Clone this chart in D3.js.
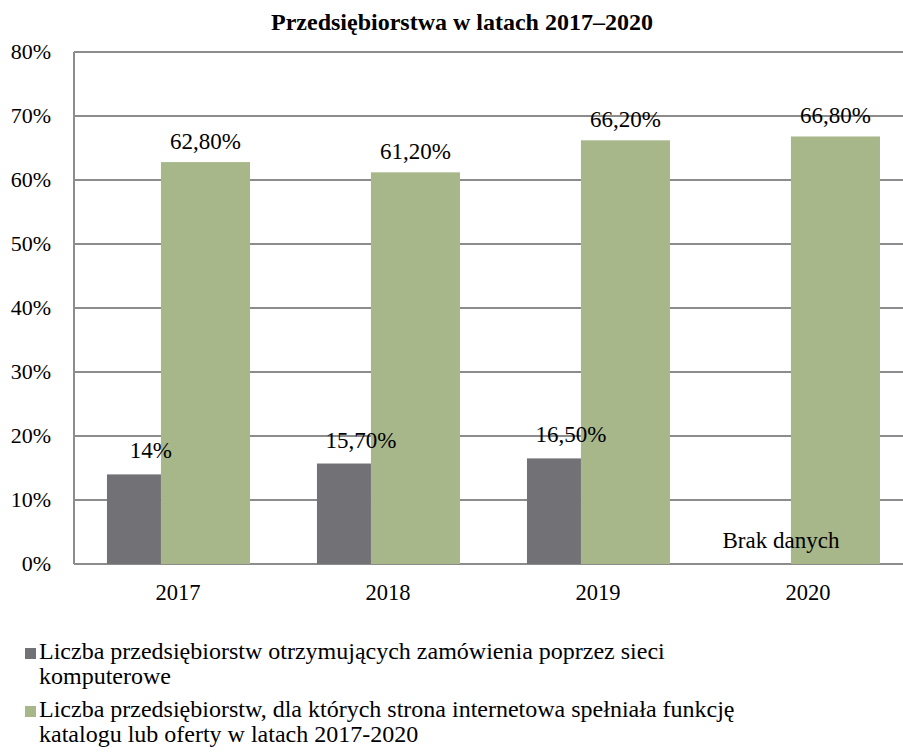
<!DOCTYPE html>
<html>
<head>
<meta charset="utf-8">
<script src="https://cdn.jsdelivr.net/npm/d3@7/dist/d3.min.js"></script>
<style>
  html, body { margin: 0; padding: 0; background: #fff; }
</style>
</head>
<body>
<svg id="chart" width="903" height="756"></svg>
<script>
// Years on the category axis
const years = ["2017", "2018", "2019", "2020"];
// Share of enterprises receiving orders via computer networks (no data for 2020)
const ordersShare = [0.14, 0.157, 0.165, null];
// Share of enterprises whose website offered a catalogue / price list
const catalogShare = [0.628, 0.612, 0.662, 0.668];
// Value labels as printed
const ordersLabels = ["14%", "15,70%", "16,50%", "Brak danych"];
const catalogLabels = ["62,80%", "61,20%", "66,20%", "66,80%"];
// Y axis ticks
const yTicks = [0, 0.1, 0.2, 0.3, 0.4, 0.5, 0.6, 0.7, 0.8];
const yTickLabels = ["0%", "10%", "20%", "30%", "40%", "50%", "60%", "70%", "80%"];
// Legend entries
const legendEntries = [
  ["Liczba przedsiębiorstw otrzymujących zamówienia poprzez sieci", "komputerowe"],
  ["Liczba przedsiębiorstw, dla których strona internetowa spełniała funkcję", "katalogu lub oferty w latach 2017-2020"]
];
const seriesColors = ["#727176", "#a7b78a"];
const title = "Przedsiębiorstwa w latach 2017–2020";

const FONT = "'Liberation Serif', 'Times New Roman', Times, 'DejaVu Serif', serif";

const svg = d3.select("#chart")
  .attr("font-family", FONT)
  .style("font-family", FONT);
const plot = { left: 74, right: 914, top: 52, bottom: 564 };

const x = d3.scaleBand().domain(years).range([plot.left, plot.right]).padding(0);
const y = d3.scaleLinear().domain([0, 0.8]).range([plot.bottom, plot.top]);

function txt(sel) {
  return sel.attr("font-family", FONT).style("font-family", FONT).attr("fill", "#000");
}

// Horizontal gridlines
svg.append("g")
  .selectAll("line")
  .data(yTicks)
  .join("line")
  .attr("x1", plot.left)
  .attr("x2", 903)
  .attr("y1", d => y(d))
  .attr("y2", d => y(d))
  .attr("stroke", "#8c8c8c")
  .attr("stroke-width", 2);

// Vertical axis line
svg.append("line")
  .attr("x1", plot.left).attr("x2", plot.left)
  .attr("y1", y(0.8)).attr("y2", y(0))
  .attr("stroke", "#8c8c8c").attr("stroke-width", 2);

// Bar geometry within each band
const bw = x.bandwidth();
const grayX = d => x(d) + bw * 0.157;
const grayW = bw * 0.257;
const greenX = d => x(d) + bw * 0.414;
const greenW = bw * 0.424;

// Green bars
svg.append("g")
  .selectAll("rect")
  .data(years.map((yr, i) => ({ yr, v: catalogShare[i] })))
  .join("rect")
  .attr("x", d => greenX(d.yr))
  .attr("width", greenW)
  .attr("y", d => y(d.v))
  .attr("height", d => y(0) - y(d.v))
  .attr("fill", seriesColors[1]);

// Gray bars
svg.append("g")
  .selectAll("rect")
  .data(years.map((yr, i) => ({ yr, v: ordersShare[i] })).filter(d => d.v !== null))
  .join("rect")
  .attr("x", d => grayX(d.yr))
  .attr("width", grayW)
  .attr("y", d => y(d.v))
  .attr("height", d => y(0) - y(d.v))
  .attr("fill", seriesColors[0]);

// Value labels for the gray series (slightly right of bar centre)
svg.append("g")
  .selectAll("text")
  .data(years.map((yr, i) => ({ yr, v: ordersShare[i] || 0, t: ordersLabels[i] })))
  .join("text")
  .call(txt)
  .attr("x", d => grayX(d.yr) + grayW / 2 + 17)
  .attr("y", d => y(d.v) - 16)
  .attr("text-anchor", "middle")
  .attr("font-size", 23)
  .text(d => d.t);

// Value labels for the green series
svg.append("g")
  .selectAll("text")
  .data(years.map((yr, i) => ({ yr, v: catalogShare[i], t: catalogLabels[i] })))
  .join("text")
  .call(txt)
  .attr("x", d => greenX(d.yr) + greenW / 2)
  .attr("y", d => y(d.v) - 13)
  .attr("text-anchor", "middle")
  .attr("font-size", 23)
  .text(d => d.t);

// Y tick labels
svg.append("g")
  .selectAll("text")
  .data(yTicks)
  .join("text")
  .call(txt)
  .attr("x", 51)
  .attr("y", d => y(d) + 7)
  .attr("text-anchor", "end")
  .attr("font-size", 22)
  .text((d, i) => yTickLabels[i]);

// Category labels
svg.append("g")
  .selectAll("text")
  .data(years)
  .join("text")
  .call(txt)
  .attr("x", d => x(d) + bw * 0.5 - 1)
  .attr("y", 600)
  .attr("text-anchor", "middle")
  .attr("font-size", 22.5)
  .text(d => d);

// Title
svg.append("text")
  .call(txt)
  .attr("x", 462)
  .attr("y", 30)
  .attr("text-anchor", "middle")
  .attr("font-size", 24)
  .attr("font-weight", "bold")
  .text(title);

// Legend
const legend = svg.append("g");
const legendTop = [659, 717];
legendEntries.forEach((lines, i) => {
  legend.append("rect")
    .attr("x", 25).attr("y", legendTop[i] - 11)
    .attr("width", 11).attr("height", 11)
    .attr("fill", seriesColors[i]);
  lines.forEach((ln, j) => {
    legend.append("text")
      .call(txt)
      .attr("x", 39)
      .attr("y", legendTop[i] + j * 24.5)
      .attr("font-size", 24)
      .text(ln);
  });
});
</script>
</body>
</html>
